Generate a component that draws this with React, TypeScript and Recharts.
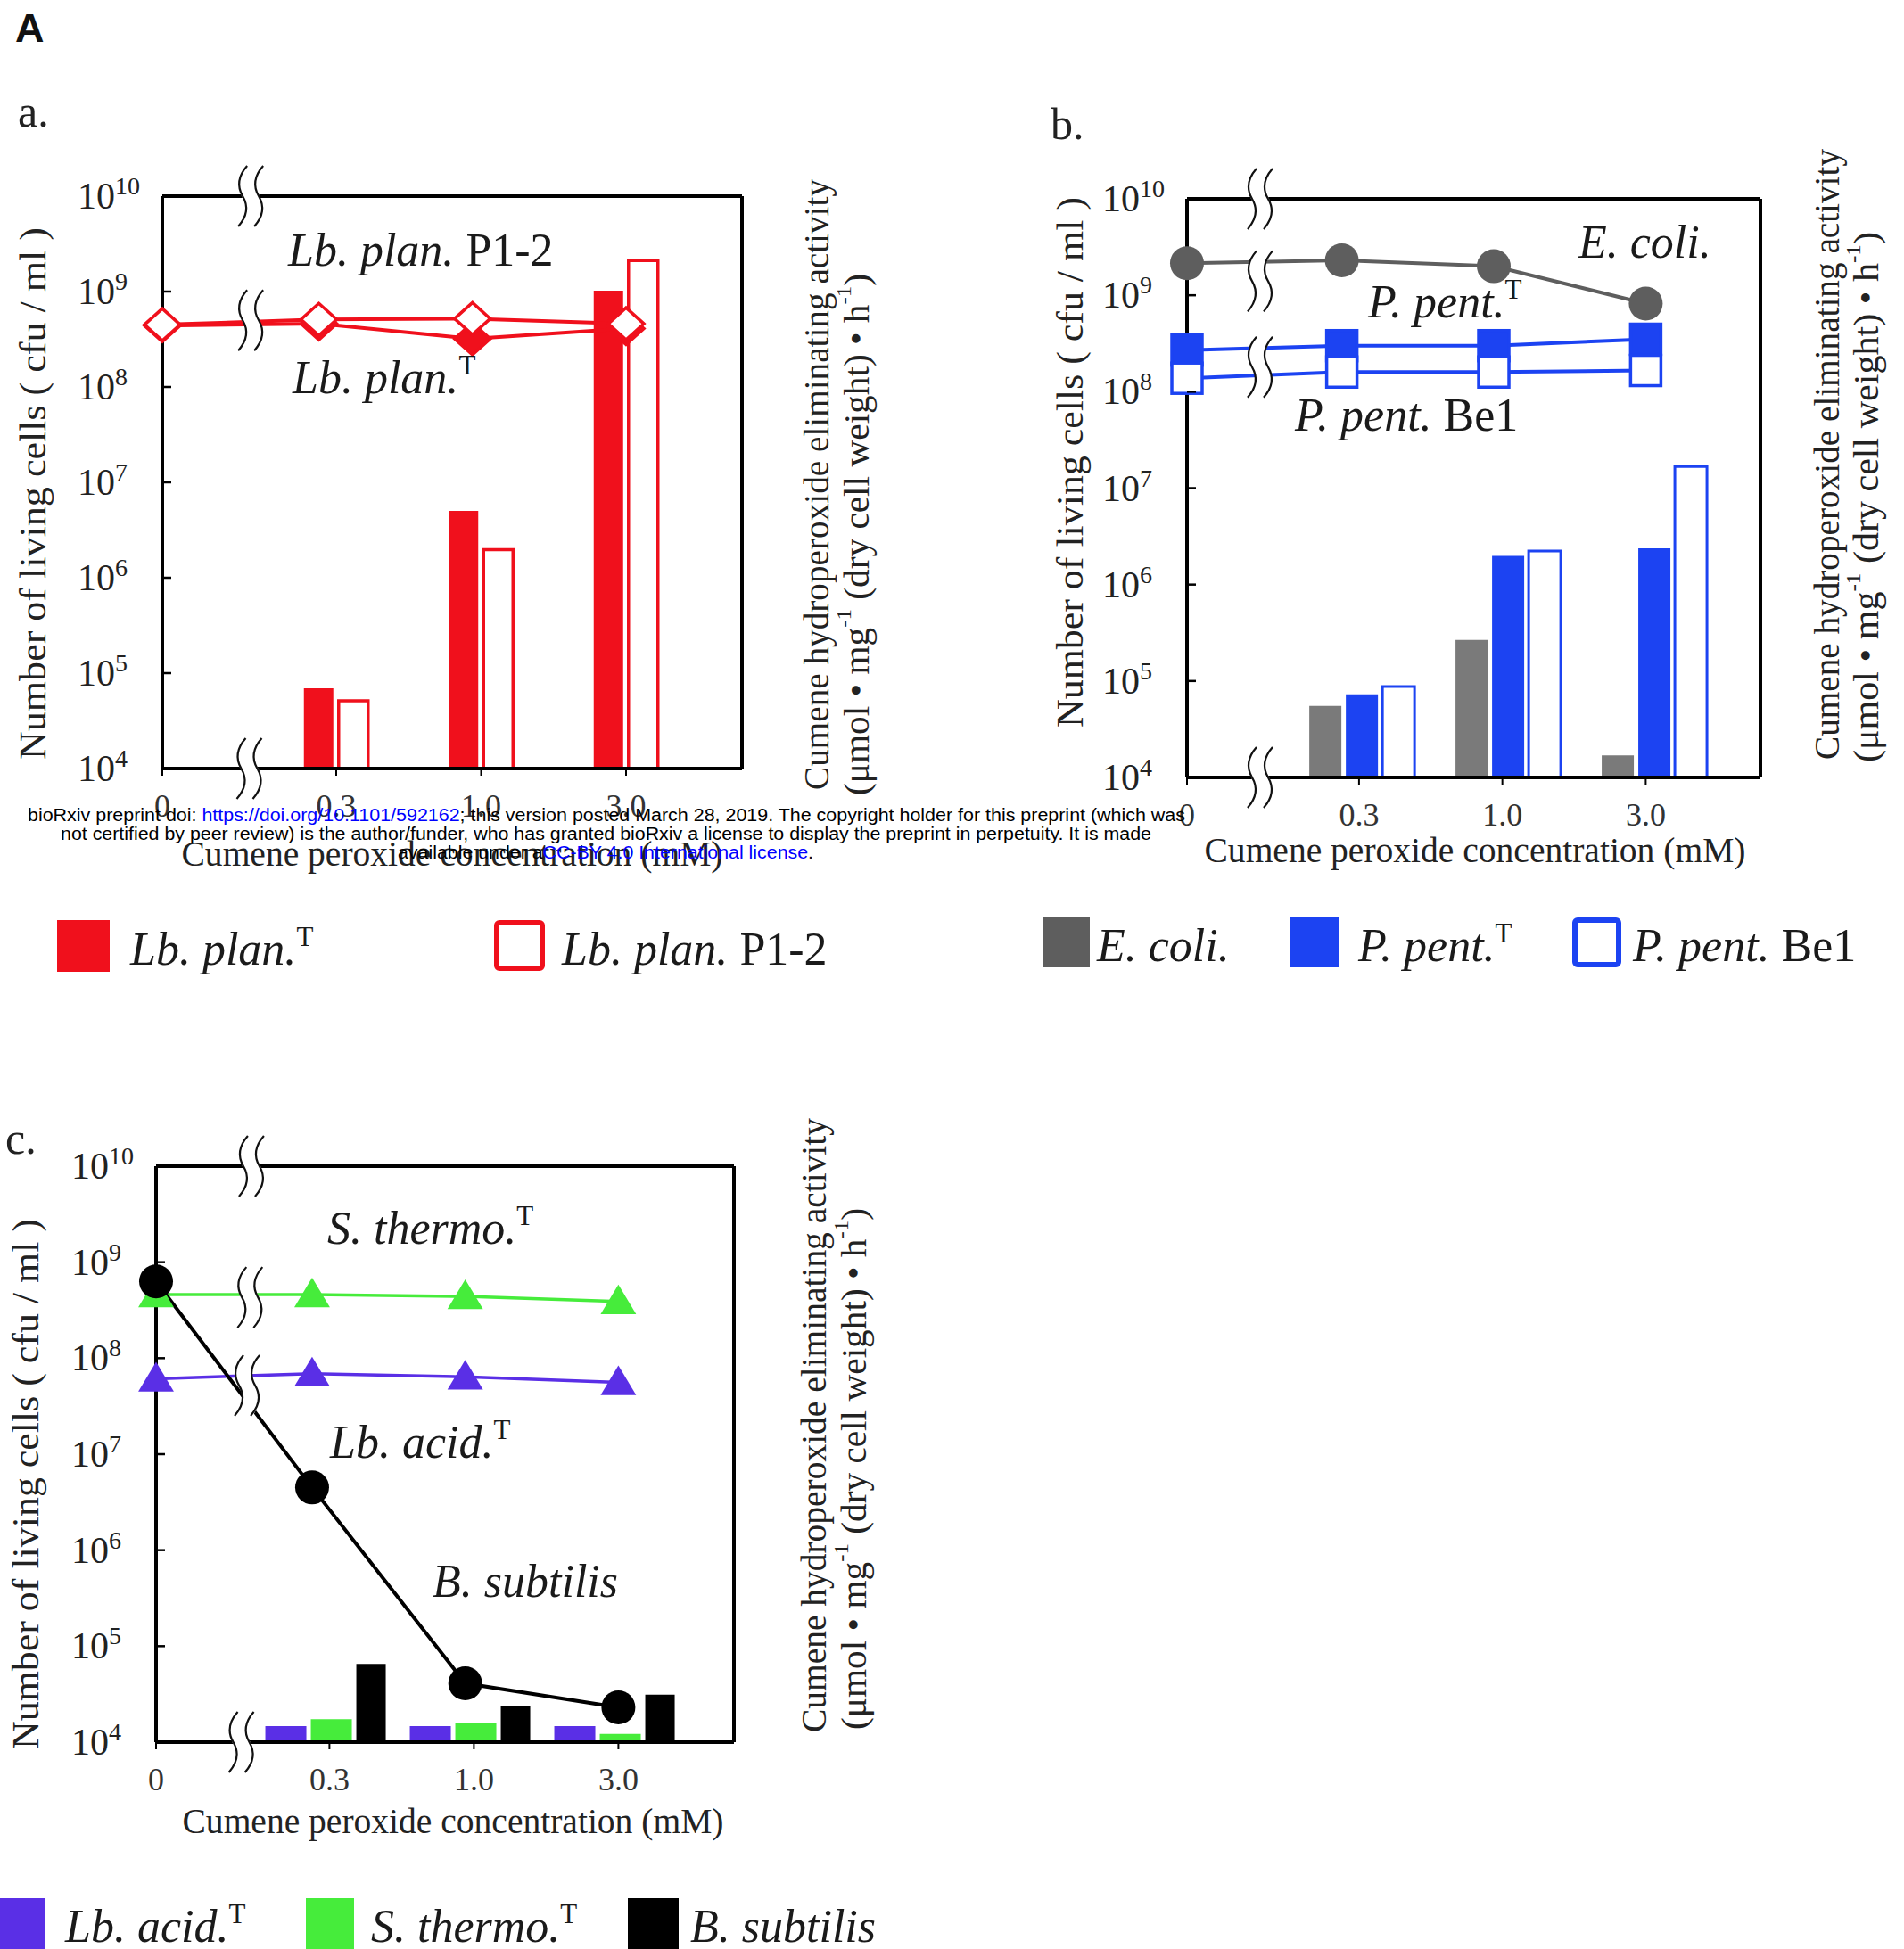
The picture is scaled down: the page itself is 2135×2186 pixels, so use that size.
import React from 'react';
import { ComposedChart, Bar, Line, XAxis, YAxis, ReferenceLine, Scatter } from 'recharts';

const SERIF = '"Liberation Serif", "Times New Roman", Times, serif';
const SANS = '"Liberation Sans", Arial, Helvetica, sans-serif';

const RED = '#f0101c';
const GREY_LINE = '#5e5e5e';
const GREY_BAR = '#7a7a7a';
const BLUE = '#1c43f2';
const PURPLE = '#5a2fe6';
const GREEN = '#46ec3b';
const BLACK = '#000000';

// Broken concentration axis (0 | break | 0.3, 1.0, 3.0)
const concLabels = ['0', '0.3', '1.0', '3.0'];
const concTickPos = [0, 1.2, 2.2, 3.2];
const linePos = [0, 1.08, 2.14, 3.2];
const logTicks = [1e4, 1e5, 1e6, 1e7, 1e8, 1e9, 1e10];
const actTicks = [0, 1, 2];

// Panel a: living cells (cfu/ml) at 0, 0.3, 1.0, 3.0 mM
const aPlanTCells = [4.4e8, 4.6e8, 3.2e8, 4.1e8];
const aP12Cells = [4.5e8, 5.1e8, 5.2e8, 4.6e8];
// Panel a: eliminating activity at 0.3, 1.0, 3.0 mM
const aPlanTAct = [0.28, 0.9, 1.67];
const aP12Act = [0.237, 0.765, 1.775];
const aBarPos = [1.2, 2.2, 3.2];
const aBreakX = [0.61, 0.61, 0.6];
const aBreakY = [1e10, 5e8, 1e4];

// Panel b
const bEcoliCells = [2.15e9, 2.3e9, 2.0e9, 8.2e8];
const bPpentTCells = [2.7e8, 3.0e8, 3.0e8, 3.5e8];
const bBe1Cells = [1.38e8, 1.6e8, 1.6e8, 1.66e8];
const bEcoliAct = [0.247, 0.475, 0.076];
const bPpentTAct = [0.287, 0.766, 0.792];
const bBe1Act = [0.314, 0.783, 1.075];
const bBarPos = [1.22, 2.24, 3.26];
const bBreakX = [0.51, 0.51, 0.51, 0.51];
const bBreakY = [1e10, 1.4e9, 1.8e8, 1e4];

// Panel c
const cAcidCells = [6.1e7, 6.9e7, 6.4e7, 5.6e7];
const cThermoCells = [4.6e8, 4.6e8, 4.4e8, 3.9e8];
const cSubCells = [6.3e8, 4.5e6, 4.1e4, 2.3e4];
const cAcidAct = [0.056, 0.056, 0.056];
const cThermoAct = [0.08, 0.067, 0.029];
const cSubAct = [0.272, 0.127, 0.165];
const cBarPos = [1.17, 2.17, 3.17];
const cBreakX = [0.66, 0.65, 0.63, 0.59];
const cBreakY = [1e10, 4.3e8, 5.2e7, 1e4];

type LineSpec = { key: string; vals: number[]; color: string; width: number; marker: string; hollow?: boolean; r: number };
type BarSpec = { key: string; vals: number[]; color: string; hollow?: boolean; size: number; sw?: number };

function markerDot(spec: LineSpec) {
  return (p: any) => {
    const { cx, cy, index } = p;
    const k = `m-${spec.key}-${index}`;
    if (cx == null || cy == null || isNaN(cx) || isNaN(cy)) return <g key={k} />;
    const fill = spec.hollow ? '#fff' : spec.color;
    const r = spec.r;
    if (spec.marker === 'diamond')
      return <path key={k} d={`M${cx} ${cy - r * 0.9}L${cx + r} ${cy}L${cx} ${cy + r * 0.9}L${cx - r} ${cy}Z`} fill={fill} stroke={spec.color} strokeWidth={3.5} />;
    if (spec.marker === 'circle') return <circle key={k} cx={cx} cy={cy} r={r} fill={fill} />;
    if (spec.marker === 'square')
      return <rect key={k} x={cx - r} y={cy - r} width={2 * r} height={2 * r} fill={fill} stroke={spec.color} strokeWidth={3.5} />;
    return <path key={k} d={`M${cx} ${cy - r}L${cx + r * 1.05} ${cy + r * 0.75}L${cx - r * 1.05} ${cy + r * 0.75}Z`} fill={fill} />;
  };
}

const BreakMark = (p: any) => {
  const { cx, cy } = p;
  if (cx == null || cy == null) return <g />;
  const h = 68;
  const g = 9;
  const curve = (x0: number) =>
    `M${x0 + 5} ${cy - h / 2} Q${x0 - 10} ${cy - h / 4} ${x0} ${cy} Q${x0 + 10} ${cy + h / 4} ${x0 - 5} ${cy + h / 2}`;
  return (
    <g>
      <path d={curve(cx)} stroke="#fff" strokeWidth={2 * g} fill="none" />
      <path d={curve(cx - g)} stroke="#111" strokeWidth={2.2} fill="none" />
      <path d={curve(cx + g)} stroke="#111" strokeWidth={2.2} fill="none" />
    </g>
  );
};

const LeftTick = (p: any) => {
  const { x, y, payload } = p;
  const exp = Math.round(Math.log10(payload.value));
  return (
    <g>
      <line x1={x} x2={x + 10} y1={y} y2={y} stroke="#000" strokeWidth={2.5} />
      <text x={x - 95} y={y + 14} fontFamily={SERIF} fontSize={42} fill="#222">
        10
        <tspan dy={-16} fontSize={28}>
          {exp}
        </tspan>
      </text>
    </g>
  );
};

const RightTick = (p: any) => {
  const { x, y, payload } = p;
  return (
    <g>
      <line x1={x - 10} x2={x} y1={y} y2={y} stroke="#000" strokeWidth={2.5} />
      <text x={x + 12} y={y + 11} fontFamily={SERIF} fontSize={33} fill="#333">
        {payload.value}
      </text>
    </g>
  );
};

const BottomTick = (p: any) => {
  const { x, y, payload } = p;
  const idx = concTickPos.indexOf(payload.value);
  return (
    <g>
      <line x1={x} x2={x} y1={y} y2={y + 8} stroke="#000" strokeWidth={2} />
      <text x={x} y={y + 54} textAnchor="middle" fontFamily={SERIF} fontSize={36} fill="#333">
        {concLabels[idx]}
      </text>
    </g>
  );
};

type Margin = { top: number; right: number; bottom: number; left: number };

function BarLayer(props: { width: number; height: number; margin: Margin; bars: BarSpec[]; barGap: number; barPos: number[] }) {
  const { width, height, margin, bars, barGap, barPos } = props;
  const data = barPos.map((x, i) => {
    const row: any = { x };
    bars.forEach((b) => { row[b.key] = b.vals[i]; });
    return row;
  });
  return (
    <ComposedChart width={width} height={height} margin={margin} data={data} barGap={barGap}>
      <XAxis dataKey="x" type="number" domain={[0, 4]} height={40} tick={false} tickLine={false} axisLine={false} />
      <YAxis yAxisId="L" domain={[0, 1]} width={100} tick={false} tickLine={false} axisLine={false} />
      <YAxis yAxisId="R" orientation="right" domain={[0, 2]} width={60} tick={false} tickLine={false} axisLine={false} />
      {bars.map((b) => (
        <Bar key={b.key} dataKey={b.key} yAxisId="R" barSize={b.size}
          fill={b.hollow ? '#fff' : b.color} stroke={b.hollow ? b.color : 'none'} strokeWidth={b.hollow ? (b.sw ?? 3.5) : 0}
          isAnimationActive={false} />
      ))}
    </ComposedChart>
  );
}

function Panel(props: {
  left: number; top: number; width: number; height: number; margin: Margin;
  lines: LineSpec[]; bars: BarSpec[]; barGap: number; barPos: number[]; breakX: number[]; breakY: number[];
}) {
  const { left, top, width, height, margin, lines, bars, barGap, barPos, breakX, breakY } = props;
  const breakData = breakY.map((y, i) => ({ x: breakX[i], y }));
  return (
    <div style={{ position: 'absolute', left, top, width, height }}>
      <div style={{ position: 'absolute', left: 0, top: 0 }}>
        <BarLayer width={width} height={height} margin={margin} bars={bars} barGap={barGap} barPos={barPos} />
      </div>
      <div style={{ position: 'absolute', left: 0, top: 0 }}>
        <ComposedChart width={width} height={height} margin={margin}>
          <XAxis dataKey="x" type="number" domain={[0, 4]} ticks={concTickPos} interval={0}
            height={40} tickSize={0} tickMargin={0} tickLine={false}
            axisLine={{ stroke: '#000', strokeWidth: 4 }} tick={(p: any) => <BottomTick {...p} />} />
          <YAxis yAxisId="L" scale="log" domain={[1e4, 1e10]} ticks={logTicks} interval={0}
            width={100} tickSize={0} tickMargin={0} tickLine={false}
            axisLine={{ stroke: '#000', strokeWidth: 4 }} tick={(p: any) => <LeftTick {...p} />} />
          <YAxis yAxisId="R" orientation="right" domain={[0, 2]} ticks={actTicks} interval={0}
            width={60} tickSize={0} tickMargin={0} tickLine={false}
            axisLine={{ stroke: '#000', strokeWidth: 4 }} tick={(p: any) => <RightTick {...p} />} />
          <ReferenceLine yAxisId="L" y={1e10} stroke="#000" strokeWidth={4} ifOverflow="visible" />
          {lines.map((l) => (
            <Line key={l.key} data={linePos.map((x, i) => ({ x, [l.key]: l.vals[i] }))} dataKey={l.key} yAxisId="L"
              type="linear" stroke={l.color} strokeWidth={l.width} dot={markerDot(l)} activeDot={false}
              isAnimationActive={false} zIndex={550} />
          ))}
          <Scatter data={breakData} dataKey="y" yAxisId="L" shape={BreakMark} isAnimationActive={false} zIndex={700} />
        </ComposedChart>
      </div>
    </div>
  );
}

const Sup = ({ children }: { children: string }) => (
  <tspan fontStyle="normal" fontSize={31} dy={-21}>{children}</tspan>
);

function Overlay() {
  const it = { fontFamily: SERIF, fontStyle: 'italic' as const, fontSize: 52, fill: '#1a1a1a' };
  const rotTitle = (cx: number, startY: number, len: number, content: React.ReactNode, fs: number) => (
    <text transform={`translate(${cx},${startY}) rotate(-90)`} textAnchor="start" dominantBaseline="central"
      fontFamily={SERIF} fontSize={fs} fill="#222" textLength={len} lengthAdjust="spacingAndGlyphs">
      {content}
    </text>
  );
  const rightLine2 = (
    <>
      (μmol • mg<tspan dy={-14} fontSize={24}>-1</tspan>
      <tspan dy={14}> (dry cell weight) • h</tspan>
      <tspan dy={-14} fontSize={24}>-1</tspan>
      <tspan dy={14}>)</tspan>
    </>
  );
  const rightLine1 = 'Cumene hydroperoxide eliminating activity';
  const leftTitle = 'Number of living cells ( cfu / ml )';
  const xTitle = 'Cumene peroxide concentration (mM)';
  return (
    <svg width={2135} height={2186} style={{ position: 'absolute', left: 0, top: 0, pointerEvents: 'none' }}>
      <text x={17} y={47} fontFamily={SANS} fontWeight="bold" fontSize={45} fill="#111">A</text>
      <text x={20} y={142} fontFamily={SERIF} fontSize={50} fill="#222">a.</text>
      <text x={1178} y={156} fontFamily={SERIF} fontSize={50} fill="#222">b.</text>
      <text x={6} y={1294} fontFamily={SERIF} fontSize={50} fill="#222">c.</text>

      {/* axis titles */}
      {rotTitle(37, 852, 597, leftTitle, 42)}
      {rotTitle(1200, 816, 595, leftTitle, 42)}
      {rotTitle(29, 1962, 595, leftTitle, 42)}
      {rotTitle(915, 886, 685, rightLine1, 40)}
      {rotTitle(960, 892, 585, rightLine2, 40)}
      {rotTitle(2048, 852, 685, rightLine1, 40)}
      {rotTitle(2092, 855, 595, rightLine2, 40)}
      {rotTitle(912, 1943, 689, rightLine1, 40)}
      {rotTitle(957, 1940, 585, rightLine2, 40)}
      <text x={507} y={971} textAnchor="middle" fontFamily={SERIF} fontSize={40} fill="#222" textLength={607} lengthAdjust="spacingAndGlyphs">{xTitle}</text>
      <text x={1654} y={967} textAnchor="middle" fontFamily={SERIF} fontSize={40} fill="#222" textLength={607} lengthAdjust="spacingAndGlyphs">{xTitle}</text>
      <text x={508} y={2056} textAnchor="middle" fontFamily={SERIF} fontSize={40} fill="#222" textLength={607} lengthAdjust="spacingAndGlyphs">{xTitle}</text>

      {/* in-plot series labels */}
      <text x={323} y={298} {...it}>Lb. plan.<tspan fontStyle="normal"> P1-2</tspan></text>
      <text x={328} y={441} {...it}>Lb. plan.<Sup>T</Sup></text>
      <text x={1770} y={289} {...it}>E. coli.</text>
      <text x={1534} y={356} {...it}>P. pent.<Sup>T</Sup></text>
      <text x={1452} y={483} {...it}>P. pent.<tspan fontStyle="normal"> Be1</tspan></text>
      <text x={367} y={1395} {...it}>S. thermo.<Sup>T</Sup></text>
      <text x={370} y={1635} {...it}>Lb. acid.<Sup>T</Sup></text>
      <text x={485} y={1791} {...it}>B. subtilis</text>

      {/* legends */}
      <rect x={64} y={1032} width={59} height={58} fill={RED} />
      <text x={146} y={1082} {...it}>Lb. plan.<Sup>T</Sup></text>
      <rect x={557} y={1035} width={51} height={51} rx={3} fill="#fff" stroke={RED} strokeWidth={6} />
      <text x={630} y={1082} {...it}>Lb. plan.<tspan fontStyle="normal"> P1-2</tspan></text>

      <rect x={1169} y={1029} width={53} height={56} fill={GREY_LINE} />
      <text x={1230} y={1078} {...it}>E. coli.</text>
      <rect x={1446} y={1029} width={56} height={56} fill={BLUE} />
      <text x={1523} y={1078} {...it}>P. pent.<Sup>T</Sup></text>
      <rect x={1766} y={1032} width={49} height={50} rx={3} fill="#fff" stroke={BLUE} strokeWidth={6} />
      <text x={1831} y={1078} {...it}>P. pent.<tspan fontStyle="normal"> Be1</tspan></text>

      <rect x={0} y={2129} width={50} height={57} fill={PURPLE} />
      <text x={73} y={2178} {...it}>Lb. acid.<Sup>T</Sup></text>
      <rect x={343} y={2129} width={54} height={57} fill={GREEN} />
      <text x={416} y={2178} {...it}>S. thermo.<Sup>T</Sup></text>
      <rect x={704} y={2129} width={57} height={57} fill={BLACK} />
      <text x={774} y={2178} {...it}>B. subtilis</text>

      {/* bioRxiv watermark */}
      <text x={31} y={921} fontFamily={SANS} fontSize={20} fill="#000" textLength={1298} lengthAdjust="spacingAndGlyphs">
        bioRxiv preprint doi: <tspan fill="#0000ff">https://doi.org/10.1101/592162</tspan>; this version posted March 28, 2019. The copyright holder for this preprint (which was
      </text>
      <text x={68} y={942} fontFamily={SANS} fontSize={20} fill="#000" textLength={1223} lengthAdjust="spacingAndGlyphs">
        not certified by peer review) is the author/funder, who has granted bioRxiv a license to display the preprint in perpetuity. It is made
      </text>
      <text x={446} y={963} fontFamily={SANS} fontSize={20} fill="#000" textLength={466} lengthAdjust="spacingAndGlyphs">
        available under a<tspan fill="#0000ff">CC-BY 4.0 International license</tspan>.
      </text>
    </svg>
  );
}

export default function App() {
  return (
    <div style={{ position: 'relative', width: 2135, height: 2186, background: '#fff', overflow: 'hidden' }}>
      <style>{'html,body{margin:0;padding:0;background:#fff;}'}</style>
      <Panel
        left={0} top={0} width={1000} height={1000}
        margin={{ top: 220, right: 108, bottom: 98, left: 82 }}
        barGap={6} barPos={aBarPos}
        bars={[
          { key: 'planT', vals: aPlanTAct, color: RED, size: 33 },
          { key: 'p12', vals: aP12Act, color: RED, hollow: true, size: 33 },
        ]}
        lines={[
          { key: 'planTc', vals: aPlanTCells, color: RED, width: 4, marker: 'diamond', r: 20 },
          { key: 'p12c', vals: aP12Cells, color: RED, width: 4, marker: 'diamond', hollow: true, r: 20 },
        ]}
        breakX={aBreakX} breakY={aBreakY}
      />
      <Panel
        left={1150} top={0} width={985} height={1000}
        margin={{ top: 223, right: 101, bottom: 88, left: 81 }}
        barGap={5} barPos={bBarPos}
        bars={[
          { key: 'ecoli', vals: bEcoliAct, color: GREY_BAR, size: 36 },
          { key: 'ppentT', vals: bPpentTAct, color: BLUE, size: 36 },
          { key: 'be1', vals: bBe1Act, color: BLUE, hollow: true, size: 36, sw: 3 },
        ]}
        lines={[
          { key: 'ecolic', vals: bEcoliCells, color: GREY_LINE, width: 4, marker: 'circle', r: 19 },
          { key: 'ppentTc', vals: bPpentTCells, color: BLUE, width: 4, marker: 'square', r: 17 },
          { key: 'be1c', vals: bBe1Cells, color: BLUE, width: 4, marker: 'square', hollow: true, r: 17 },
        ]}
        breakX={bBreakX} breakY={bBreakY}
      />
      <Panel
        left={0} top={1230} width={1000} height={956}
        margin={{ top: 78, right: 117, bottom: 192, left: 75 }}
        barGap={5} barPos={cBarPos}
        bars={[
          { key: 'acid', vals: cAcidAct, color: PURPLE, size: 46 },
          { key: 'thermo', vals: cThermoAct, color: GREEN, size: 46 },
          { key: 'sub', vals: cSubAct, color: BLACK, size: 33 },
        ]}
        lines={[
          { key: 'acidc', vals: cAcidCells, color: PURPLE, width: 3.5, marker: 'triangle', r: 19 },
          { key: 'thermoc', vals: cThermoCells, color: GREEN, width: 3.5, marker: 'triangle', r: 19 },
          { key: 'subc', vals: cSubCells, color: BLACK, width: 4, marker: 'circle', r: 19 },
        ]}
        breakX={cBreakX} breakY={cBreakY}
      />
      <Overlay />
    </div>
  );
}
